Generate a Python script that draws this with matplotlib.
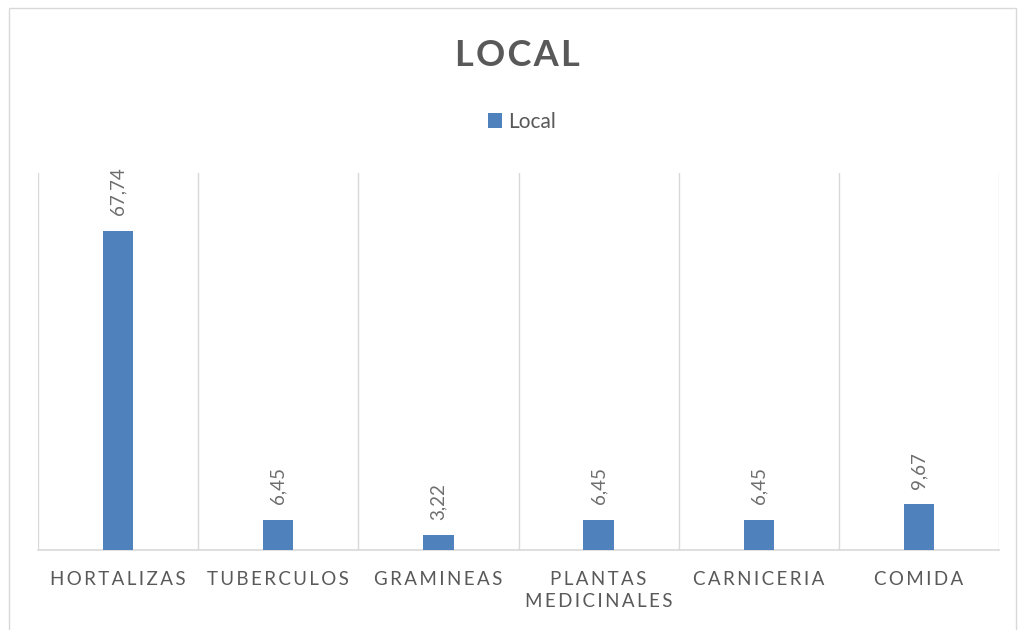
import matplotlib
matplotlib.use("Agg")
import matplotlib.pyplot as plt
from matplotlib.patches import Rectangle

categories = ["HORTALIZAS", "TUBERCULOS", "GRAMINEAS", "PLANTAS\nMEDICINALES", "CARNICERIA", "COMIDA"]
values = [67.74, 6.45, 3.22, 6.45, 6.45, 9.67]
series_name = "Local"
title = "LOCAL"

BLUE = "#4F81BD"
GRAY = "#595959"
GRID = "#D9D9D9"
FONT = ["Lato", "DejaVu Sans"]

def spaced(s, sep="\u2009"):
    return "\n".join(sep.join(line) for line in s.split("\n"))

fig = plt.figure(figsize=(10.19, 6.3), dpi=100)
fig.patches.append(Rectangle((9/1019, -0.05), (1016-9)/1019, 1.05 - 7.5/630,
                             transform=fig.transFigure, fill=False,
                             edgecolor=GRID, linewidth=1))
ax = fig.add_axes([38/1019, 1-550/630, (999-38)/1019, (550-173)/630])

x = list(range(len(categories)))
bars = ax.bar(x, values, width=0.19, color=BLUE, label=series_name, zorder=3)
ax.set_xlim(-0.5, len(categories)-0.5)
ax.set_ylim(0, 80)

for xi, v in zip(x, values):
    ax.annotate(f"{v:.2f}".replace(".", ","), (xi, v), xytext=(0, 11),
                textcoords="offset points", rotation=90, ha="center", va="bottom",
                fontsize=13.5, color="#6E6E6E", family=FONT)

for b in [i - 0.5 for i in range(len(categories)+1)]:
    ax.axvline(b, color=GRID, linewidth=1, zorder=1)

for s in ["top", "right", "left"]:
    ax.spines[s].set_visible(False)
ax.spines["bottom"].set_color(GRID)
ax.spines["bottom"].set_linewidth(1.2)
ax.set_yticks([])
ax.set_xticks(x)
ax.set_xticklabels([spaced(c) for c in categories], fontsize=13.5, color=GRAY,
                   family=FONT, linespacing=1.4, va="top")
ax.tick_params(axis="x", length=0, pad=15)

fig.text(517/1019, 1-55/630, spaced(title, "\u200a"), ha="center", va="center",
         fontsize=26, fontweight="bold", color=GRAY, family=FONT)

leg = fig.legend(handles=[bars], labels=[series_name], loc="center",
                 bbox_to_anchor=(522/1019, 1-122/630), frameon=False,
                 prop={"family": FONT, "size": 15}, handlelength=0.7,
                 handleheight=0.7, handletextpad=0.3)
for t in leg.get_texts():
    t.set_color(GRAY)

fig.savefig("out.png", dpi=100)
